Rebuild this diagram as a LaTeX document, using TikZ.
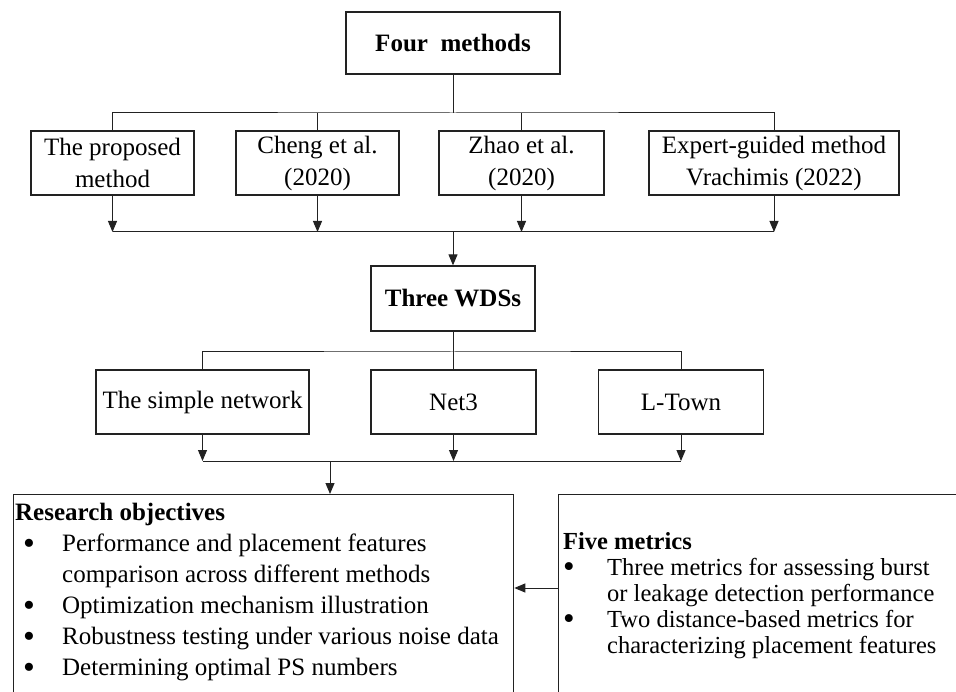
\documentclass[tikz,border=0pt]{standalone}
\usepackage{fontspec}
\setmainfont{Liberation Serif}
\usetikzlibrary{arrows.meta}
\definecolor{ink}{HTML}{222222}
\newcommand{\bigbul}{\raisebox{-2.5pt}{\scalebox{1.35}{•}}}
\begin{document}
\begin{tikzpicture}[x=1pt,y=-1pt,
  font=\fontsize{25}{32}\selectfont,
  box/.style={draw=ink, line width=1.3pt, inner sep=0pt, align=center, text=black},
  conn/.style={draw=ink, line width=1pt},
  arr/.style={conn, -{Triangle[length=11pt,width=9pt]}},
  bul/.style={anchor=north west, inner sep=0pt, align=left, text=black}]
\useasboundingbox (0,0) rectangle (956,692);
\clip (0,0) rectangle (956,692);
% top
\node[box, minimum width=214pt, minimum height=62pt] (four) at (453,43) {\textbf{Four\ \ methods}};
\node[box, minimum width=163pt, minimum height=64pt] (m1) at (112.5,163) {The proposed\\method};
\node[box, minimum width=163pt, minimum height=64pt] (m2) at (317.5,163) {Cheng et al.\\(2020)};
\node[box, minimum width=165pt, minimum height=64pt] (m3) at (521.5,163) {Zhao et al.\\(2020)};
\node[box, minimum width=250pt, minimum height=64pt] (m4) at (774,163) {Expert-guided method\\Vrachimis (2022)};
\coordinate (t1) at (453,113);
\coordinate (j1) at (453,232);
\draw[conn] (four.south) -- (t1);
\draw[conn] (m1.north) |- (t1) -| (m4.north);
\draw[conn] (m2.north) -- (m2.north |- t1);
\draw[conn] (m3.north) -- (m3.north |- t1);
\foreach \m in {m1,m2,m3,m4} \draw[arr] (\m.south) -- (\m.south |- j1);
\draw[conn] (m1.south |- j1) -- (m4.south |- j1);
% WDS
\node[box, minimum width=164pt, minimum height=65pt] (wds) at (453,298.5) {\textbf{Three WDSs}};
\draw[arr] (j1) -- (wds.north);
\node[box, minimum width=213pt, minimum height=64pt] (n1) at (202.5,402) {The simple network};
\node[box, minimum width=165pt, minimum height=64pt] (n2) at (453.5,402) {Net3};
\node[box, minimum width=165pt, minimum height=64pt] (n3) at (681,402) {L-Town};
\coordinate (t2) at (453,352);
\coordinate (j2) at (330,461);
\draw[conn] (wds.south) -- (t2);
\draw[conn] (n1.north) |- (t2) -| (n3.north);
\draw[conn] (n2.north) -- (n2.north |- t2);
\foreach \n in {n1,n2,n3} \draw[arr] (\n.south) -- (\n.south |- j2);
\draw[conn] (n1.south |- j2) -- (n3.south |- j2);
% bottom boxes
\node[box, anchor=north west, minimum width=500pt, minimum height=230pt] (obj) at (13,494) {};
\node[box, anchor=north west, minimum width=420pt, minimum height=230pt] (met) at (558,494) {};
\draw[arr] (j2) -- (obj.north -| j2);
\draw[arr] (met.west |- 0,588) -- (obj.east |- 0,588);
\node[bul, font=\fontsize{25}{31}\selectfont] (objtxt) at (15,503) {\textbf{Research objectives}\\
\hbox to 47pt{\hspace{8pt}\bigbul\hfil}Performance and placement features\\
\hbox to 47pt{\hfil}comparison across different methods\\
\hbox to 47pt{\hspace{8pt}\bigbul\hfil}Optimization mechanism illustration\\
\hbox to 47pt{\hspace{8pt}\bigbul\hfil}Robustness testing under various noise data\\
\hbox to 47pt{\hspace{8pt}\bigbul\hfil}Determining optimal PS numbers};
\node[bul, font=\fontsize{24.5}{26}\selectfont] (mettxt) at (563,532) {\textbf{Five metrics}\\
\hbox to 44pt{\hspace{0pt}\bigbul\hfil}Three metrics for assessing burst\\
\hbox to 44pt{\hfil}or leakage detection performance\\
\hbox to 44pt{\hspace{0pt}\bigbul\hfil}Two distance-based metrics for\\
\hbox to 44pt{\hfil}characterizing placement features};
\end{tikzpicture}
\end{document}
